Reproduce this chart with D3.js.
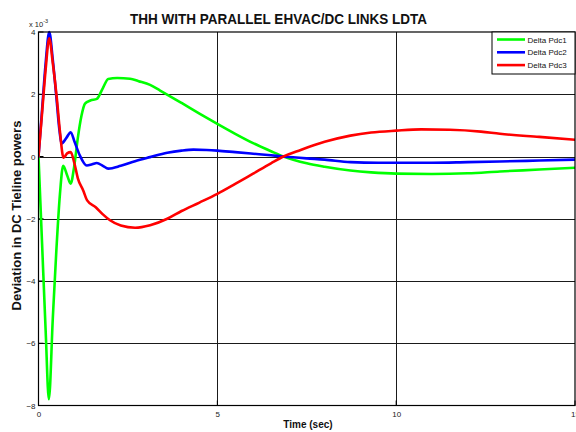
<!DOCTYPE html>
<html>
<head>
<meta charset="utf-8">
<script src="https://cdn.jsdelivr.net/npm/d3@7"></script>
<style>
  html, body { margin: 0; padding: 0; background: #fff; }
  svg { display: block; font-family: "Liberation Sans", Arial, sans-serif; }
</style>
</head>
<body>
<svg id="chart" width="576" height="432"></svg>
<script>
// Tie-line power deviations (x 10^-3) versus time in seconds
const timePdc1 = [0, 0.1, 0.2, 0.29, 0.4, 0.5, 0.6, 0.69, 0.8, 0.9, 1.0, 1.1, 1.2, 1.3, 1.45, 1.63, 1.8, 1.95, 2.2, 2.56, 2.8, 3.12, 3.4, 4.0, 4.5, 5.0, 5.5, 6.0, 6.5, 6.85, 7.5, 8.0, 8.72, 9.3, 10, 11, 12, 12.9, 14, 15];
const deltaPdc1 = [0, -2.8, -5.6, -7.8, -5.2, -3.0, -1.2, -0.3, -0.6, -0.87, -0.3, 0.6, 1.3, 1.7, 1.8, 1.85, 2.2, 2.49, 2.52, 2.5, 2.42, 2.3, 2.12, 1.72, 1.38, 1.05, 0.73, 0.43, 0.17, 0.0, -0.22, -0.33, -0.45, -0.51, -0.55, -0.56, -0.54, -0.48, -0.42, -0.36];

const timePdc2 = [0, 0.1, 0.2, 0.3, 0.4, 0.5, 0.58, 0.65, 0.78, 0.9, 1.0, 1.15, 1.35, 1.5, 1.63, 1.8, 1.95, 2.3, 2.7, 3.12, 3.6, 4.0, 4.33, 4.7, 5.0, 5.5, 6.0, 6.5, 6.85, 7.5, 8.0, 8.72, 9.5, 10, 11, 12, 12.9, 14, 15];
const deltaPdc2 = [0, 1.5, 3.0, 4.0, 3.1, 1.9, 0.9, 0.42, 0.6, 0.78, 0.5, 0.05, -0.29, -0.25, -0.21, -0.3, -0.39, -0.3, -0.15, -0.02, 0.12, 0.19, 0.22, 0.21, 0.19, 0.14, 0.09, 0.04, 0.0, -0.06, -0.1, -0.18, -0.2, -0.2, -0.2, -0.18, -0.16, -0.13, -0.1];

const timePdc3 = [0, 0.1, 0.2, 0.3, 0.4, 0.51, 0.6, 0.7, 0.8, 0.9, 1.0, 1.1, 1.25, 1.36, 1.6, 1.8, 2.0, 2.3, 2.7, 3.12, 3.6, 4.0, 4.5, 5.0, 5.5, 6.0, 6.5, 6.85, 7.33, 8.0, 8.72, 9.3, 10, 10.7, 11.5, 12.37, 12.9, 14, 15];
const deltaPdc3 = [0, 1.4, 2.8, 3.8, 3.0, 1.9, 0.8, -0.04, 0.1, 0.14, -0.2, -0.7, -1.09, -1.41, -1.63, -1.86, -2.05, -2.22, -2.29, -2.21, -2.0, -1.75, -1.48, -1.2, -0.88, -0.55, -0.22, 0.0, 0.21, 0.47, 0.67, 0.77, 0.83, 0.87, 0.86, 0.8, 0.73, 0.63, 0.54];

const seriesNames = ["Delta Pdc1", "Delta Pdc2", "Delta Pdc3"];
const seriesColors = ["#00ff00", "#0000ff", "#ff0000"];

const xTicks = [0, 5, 10, 15];
const yTicks = [4, 2, 0, -2, -4, -6, -8];

const titleText = "THH WITH PARALLEL EHVAC/DC LINKS LDTA";
const xLabel = "Time (sec)";
const yLabel = "Deviation in DC Tieline powers";

const series = [
  { name: seriesNames[0], color: seriesColors[0], t: timePdc1, v: deltaPdc1 },
  { name: seriesNames[1], color: seriesColors[1], t: timePdc2, v: deltaPdc2 },
  { name: seriesNames[2], color: seriesColors[2], t: timePdc3, v: deltaPdc3 }
];

const plot = { left: 38.5, right: 575, top: 32, bottom: 405.5 };

const svg = d3.select("#chart");

const x = d3.scaleLinear().domain([0, 15]).range([plot.left, plot.right]);
const y = d3.scaleLinear().domain([-8, 4]).range([plot.bottom, plot.top]);

// grid lines
const grid = svg.append("g").attr("stroke", "#1a1a1a").attr("stroke-width", 1);
grid.selectAll("line.gx").data(xTicks.slice(1, -1)).join("line")
  .attr("x1", d => Math.round(x(d)) + 0.5).attr("x2", d => Math.round(x(d)) + 0.5)
  .attr("y1", plot.top).attr("y2", plot.bottom);
grid.selectAll("line.gy").data(yTicks.slice(1, -1)).join("line")
  .attr("y1", d => Math.round(y(d)) + 0.5).attr("y2", d => Math.round(y(d)) + 0.5)
  .attr("x1", plot.left).attr("x2", plot.right);

// axes (tick labels only; frame drawn separately)
const xAxis = d3.axisBottom(x).tickValues(xTicks).tickSize(0).tickPadding(6).tickFormat(d3.format("d"));
svg.append("g").attr("transform", `translate(0,${plot.bottom})`).call(xAxis)
  .call(g => g.select(".domain").remove())
  .call(g => g.selectAll("text").attr("font-size", 8).attr("fill", "#222").attr("font-family", "Liberation Sans, Arial"));

const yAxis = d3.axisLeft(y).tickValues(yTicks).tickSize(0).tickPadding(3).tickFormat(d3.format("d"));
svg.append("g").attr("transform", `translate(${plot.left},0)`).call(yAxis)
  .call(g => g.select(".domain").remove())
  .call(g => g.selectAll("text").attr("font-size", 8).attr("fill", "#222").attr("font-family", "Liberation Sans, Arial"));

// inward tick marks
const tickG = svg.append("g").attr("stroke", "#000").attr("stroke-width", 1);
tickG.selectAll("line.tx").data(xTicks).join("line")
  .attr("x1", d => x(d)).attr("x2", d => x(d))
  .attr("y1", plot.bottom).attr("y2", plot.bottom - 5);
tickG.selectAll("line.ty").data(yTicks).join("line")
  .attr("y1", d => y(d)).attr("y2", d => y(d))
  .attr("x1", plot.left).attr("x2", plot.left + 5);

// exponent marker
const expo = svg.append("text").attr("x", 29).attr("y", 26.5)
  .attr("font-size", 7.5).attr("fill", "#222");
expo.append("tspan").text("x 10");
expo.append("tspan").attr("dy", -4).attr("font-size", 5.5).text("-3");

// clip for the curves
svg.append("clipPath").attr("id", "plotClip").append("rect")
  .attr("x", plot.left).attr("y", plot.top - 3)
  .attr("width", plot.right - plot.left).attr("height", plot.bottom - plot.top + 3);

const line = d3.line()
  .x(d => x(d[0]))
  .y(d => y(d[1]))
  .curve(d3.curveMonotoneX);

svg.append("g").attr("clip-path", "url(#plotClip)")
  .selectAll("path").data(series).join("path")
  .attr("d", s => line(s.t.map((t, i) => [t, s.v[i]])))
  .attr("fill", "none")
  .attr("stroke", s => s.color)
  .attr("stroke-width", 2.6)
  .attr("stroke-linejoin", "round")
  .attr("stroke-linecap", "round");

// plot frame
svg.append("rect")
  .attr("x", plot.left).attr("y", plot.top)
  .attr("width", plot.right - plot.left).attr("height", plot.bottom - plot.top)
  .attr("fill", "none").attr("stroke", "#000").attr("stroke-width", 1.2);

// legend
const legend = svg.append("g");
legend.append("rect")
  .attr("x", 492).attr("y", plot.top).attr("width", plot.right - 492).attr("height", 42)
  .attr("fill", "#fff").attr("stroke", "#000").attr("stroke-width", 1);
const rows = legend.selectAll("g.row").data(series).join("g")
  .attr("transform", (d, i) => `translate(0,${39.5 + i * 12.8})`);
rows.append("line").attr("x1", 497).attr("x2", 525).attr("y1", 0).attr("y2", 0)
  .attr("stroke", d => d.color).attr("stroke-width", 2.6);
rows.append("text").attr("x", 527.5).attr("y", 3)
  .attr("font-size", 8).attr("fill", "#111").text(d => d.name);

// title and axis labels
svg.append("text").attr("x", 278.5).attr("y", 24)
  .attr("text-anchor", "middle").attr("font-size", 15).attr("font-weight", "bold")
  .attr("textLength", 297).attr("lengthAdjust", "spacingAndGlyphs")
  .attr("fill", "#111").text(titleText);

svg.append("text").attr("x", 308).attr("y", 428)
  .attr("text-anchor", "middle").attr("font-size", 10).attr("font-weight", "bold")
  .attr("fill", "#111").text(xLabel);

svg.append("text")
  .attr("transform", "translate(20.5,215.5) rotate(-90)")
  .attr("text-anchor", "middle").attr("font-size", 13).attr("font-weight", "bold")
  .attr("fill", "#111").text(yLabel);
</script>
</body>
</html>
